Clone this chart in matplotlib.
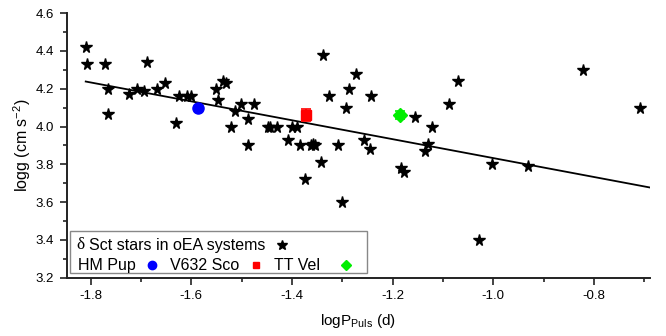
"""logg vs pulsation period for delta Sct stars in oEA systems."""

import matplotlib
matplotlib.use("Agg")
from matplotlib import pyplot as plt
from matplotlib.patches import Rectangle
from matplotlib.ticker import MultipleLocator

plt.rcParams["font.family"] = ["Liberation Sans", "DejaVu Sans"]
plt.rcParams["mathtext.fontset"] = "custom"
plt.rcParams["mathtext.rm"] = "Liberation Sans"
plt.rcParams["mathtext.it"] = "Liberation Sans:italic"

# delta Sct stars in oEA systems
star_logp = [-1.810, -1.807, -1.772, -1.765, -1.766, -1.723, -1.708, -1.694,
             -1.689, -1.669, -1.653, -1.631, -1.624, -1.609, -1.601, -1.551,
             -1.547, -1.538, -1.532, -1.522, -1.514, -1.502, -1.487, -1.487,
             -1.475, -1.447, -1.444, -1.430, -1.407, -1.400, -1.391, -1.384,
             -1.362, -1.358, -1.355, -1.342, -1.339, -1.326, -1.374, -1.308,
             -1.300, -1.292, -1.287, -1.273, -1.256, -1.244, -1.243, -1.184,
             -1.177, -1.155, -1.135, -1.129, -1.121, -1.088, -1.070, -1.028,
             -1.003, -0.930, -0.821, -0.709]
star_logg = [4.42, 4.33, 4.33, 4.20, 4.065, 4.17, 4.20, 4.19,
             4.34, 4.20, 4.23, 4.02, 4.16, 4.16, 4.16, 4.20,
             4.14, 4.24, 4.23, 4.00, 4.08, 4.12, 4.04, 3.90,
             4.12, 4.00, 4.00, 4.00, 3.93, 4.00, 4.00, 3.90,
             3.90, 3.91, 3.90, 3.81, 4.38, 4.16, 3.72, 3.90,
             3.60, 4.10, 4.20, 4.28, 3.93, 3.88, 4.16, 3.78,
             3.76, 4.05, 3.87, 3.91, 4.00, 4.12, 4.24, 3.40,
             3.80, 3.79, 4.30, 4.10]

# the three systems
hm_pup = (-1.586, 4.10)
v632_sco = (-1.372, 4.061, 0.03)
tt_vel = (-1.185, 4.06, 0.022)

# linear fit
fit_x = [-1.81, -0.689]
fit_slope = -0.5
fit_icpt = 3.333


def main():
    fig = plt.figure(figsize=(6.66, 3.36), dpi=100)
    ax = fig.add_axes([0.100, 0.1735, 0.8755, 0.7875])

    ax.plot(fit_x, [fit_icpt + fit_slope * x for x in fit_x], color="black",
            lw=1.3, zorder=2)
    ax.plot(star_logp, star_logg, ls="none", marker="*", ms=8.5,
            color="black", mec="black", zorder=3)
    ax.plot(*hm_pup, ls="none", marker="o", ms=8, color="#0000ff", zorder=4)
    ax.errorbar(v632_sco[0], v632_sco[1], yerr=v632_sco[2], fmt="s", ms=6.5,
                color="#ff0000", ecolor="#ff0000", capsize=3.5, capthick=1.2,
                elinewidth=1.2, zorder=4)
    ax.errorbar(tt_vel[0], tt_vel[1], yerr=tt_vel[2], fmt="D", ms=7,
                color="#00ee00", ecolor="#00ee00", capsize=3.5, capthick=1.2,
                elinewidth=1.2, zorder=4)

    ax.set_xlim(-1.848, -0.689)
    ax.set_ylim(3.2, 4.6)
    ax.xaxis.set_major_locator(MultipleLocator(0.2))
    ax.xaxis.set_minor_locator(MultipleLocator(0.1))
    ax.yaxis.set_major_locator(MultipleLocator(0.2))
    ax.yaxis.set_minor_locator(MultipleLocator(0.1))
    ax.xaxis.set_major_formatter(lambda v, p: f"{v:.1f}")
    ax.yaxis.set_major_formatter(lambda v, p: f"{v:.1f}")

    for side in ("top", "right"):
        ax.spines[side].set_visible(False)
    for side in ("left", "bottom"):
        ax.spines[side].set_linewidth(1.4)
        ax.spines[side].set_color("#222222")
    ax.tick_params(which="major", direction="out", length=5, width=1.2,
                   labelsize=9.5, color="#222222", pad=4)
    ax.tick_params(which="minor", direction="out", length=3, width=1.2,
                   color="#222222")

    ax.set_xlabel(r"logP$_{\mathrm{Puls}}$ (d)", fontsize=11, labelpad=7)
    ax.set_ylabel(r"logg (cm s$^{-2}$)", fontsize=11.5)
    ax.yaxis.set_label_coords(-0.058, 0.5)

    # legend drawn by hand: text first, then marker, as in the original
    tr = ax.transAxes
    ax.add_patch(Rectangle((0.0057, 0.018), 0.509, 0.158, transform=tr,
                           fill=True, facecolor="white", edgecolor="#888888",
                           lw=1.0, zorder=5, clip_on=False))
    kw = dict(transform=tr, va="center", ha="left", fontsize=11.5, zorder=6)
    ax.text(0.0175, 0.1224, "δ", family="Liberation Serif", fontsize=12.5,
            transform=tr, va="center", ha="left", zorder=6)
    ax.text(0.039, 0.1224, "Sct stars in oEA systems", **kw)
    ax.text(0.0189, 0.048, "HM Pup", **kw)
    ax.text(0.177, 0.048, "V632 Sco", **kw)
    ax.text(0.356, 0.048, "TT Vel", **kw)
    mk = dict(transform=tr, ls="none", zorder=6, clip_on=False)
    ax.plot([0.370], [0.1224], marker="*", ms=7, color="black", **mk)
    ax.plot([0.1463], [0.048], marker="o", ms=6, color="#0000ff", **mk)
    ax.plot([0.324], [0.048], marker="s", ms=5, color="#ff0000", **mk)
    ax.plot([0.4796], [0.048], marker="D", ms=5.5, color="#00ee00", **mk)

    fig.savefig("out.png", dpi=100)


if __name__ == "__main__":
    main()
